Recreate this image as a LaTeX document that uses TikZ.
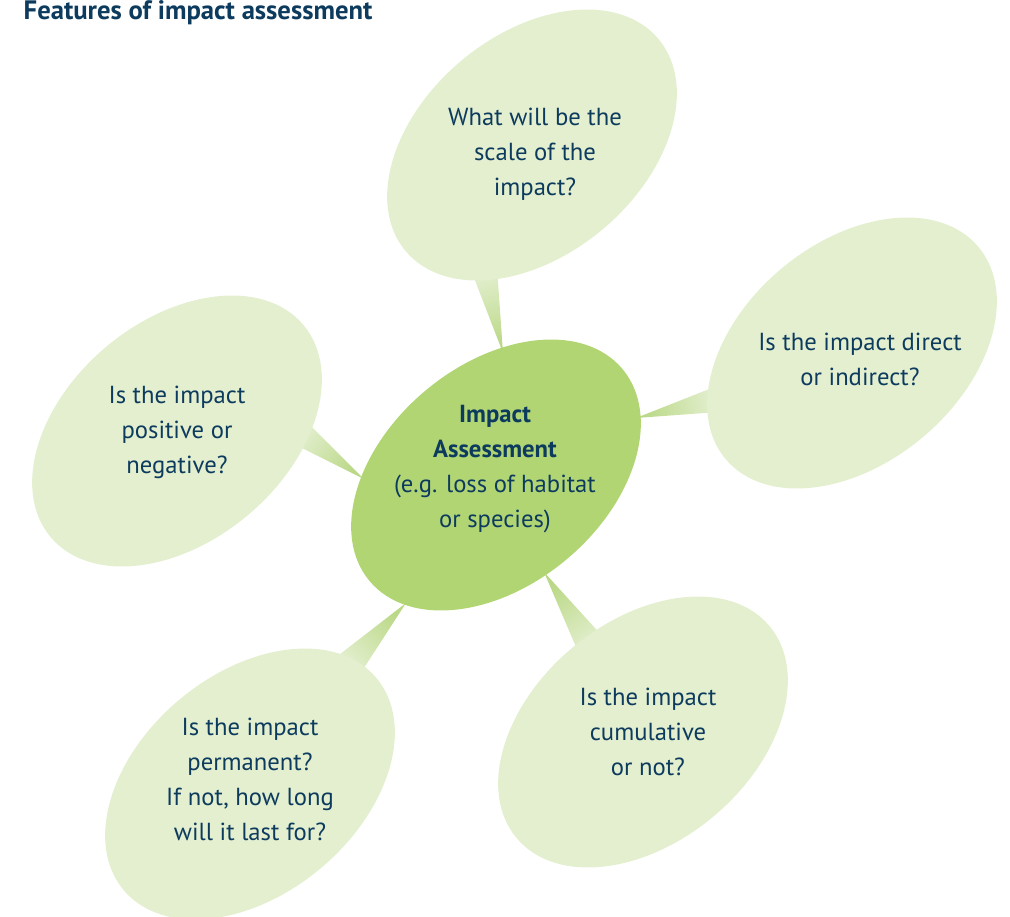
\documentclass[tikz,border=0pt]{standalone}
\usepackage{fontspec}
\setmainfont{PT Sans}
\usepackage{tikz}
\usetikzlibrary{shapes}

\definecolor{inknavy}{HTML}{0D3B5E}
\definecolor{paleleaf}{HTML}{E3EFCF}
\definecolor{midleaf}{HTML}{B2D574}
\definecolor{tipleaf}{HTML}{BAD886}

\tikzset{
  bubble/.style={ellipse, fill=paleleaf, inner sep=0pt,
    minimum width=247.5pt, minimum height=165pt, rotate=40},
  hub/.style={bubble, fill=midleaf},
  question/.style={text=inknavy, align=center,
    font=\fontsize{18.5}{26.25}\selectfont},
  tail/.style={top color=paleleaf, bottom color=tipleaf}
}

\begin{document}
\begin{tikzpicture}[x=0.75pt, y=-0.75pt]
    \useasboundingbox (0,0) rectangle (1010,917);
    \node[anchor=west, text=inknavy, font=\bfseries\fontsize{20}{24}\selectfont]
      (title) at (19,13) {Features of impact assessment};

    \coordinate (scaletip) at (503,353);
    \coordinate (directtip) at (636,418);
    \coordinate (signtip) at (364,479);
    \coordinate (lengthtip) at (406,603);
    \coordinate (sumtip) at (544,572);
    \shade[tail, shading angle=13] (471,270) -- (scaletip) -- (497,268) -- cycle;
    \shade[tail, shading angle=-76] (717,386) -- (directtip) -- (718,412) -- cycle;
    \shade[tail, shading angle=53] (306,421) -- (signtip) -- (294,444) -- cycle;
    \shade[tail, shading angle=136] (335,658) -- (lengthtip) -- (362,671) -- cycle;
    \shade[tail, shading angle=213] (604,638) -- (sumtip) -- (579,654) -- cycle;

    \node[bubble] (scale) at (532,145) {};
    \node[bubble] (direct) at (852,353) {};
    \node[bubble] (sign) at (177,431) {};
    \node[bubble] (length) at (250,784) {};
    \node[bubble] (sum) at (643,732) {};
    \node[hub] (hub) at (496,475) {};

    \node[question] (scaletext) at (535,154) {What will be the\\scale of the\\impact?};
    \node[question] (directtext) at (860,359) {Is the impact direct\\or indirect?};
    \node[question] (signtext) at (177,432) {Is the impact\\positive or\\negative?};
    \node[question] (lengthtext) at (250,779) {Is the impact\\permanent?\\If not, how long\\will it last for?};
    \node[question] (sumtext) at (648,732) {Is the impact\\cumulative\\or not?};
    \node[question] (hubtext) at (495,469)
      {\textbf{Impact}\\\textbf{Assessment}\\(e.g. loss of habitat\\or species)};
  \end{tikzpicture}
\end{document}
